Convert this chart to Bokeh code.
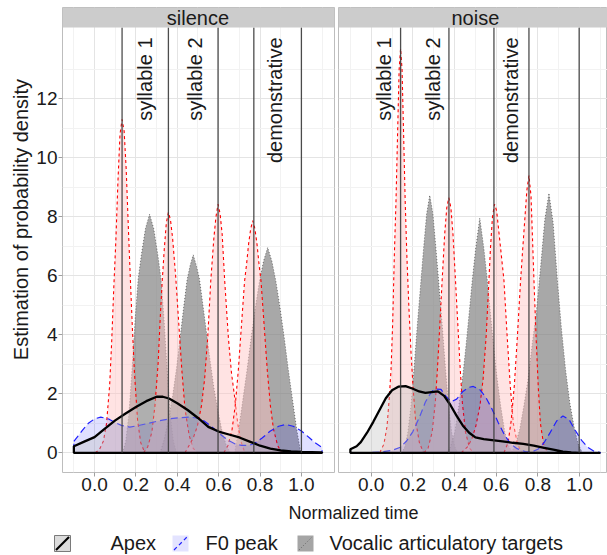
import math
from bokeh.plotting import figure
from bokeh.models import Range1d, FixedTicker, CustomJSTickFormatter
from bokeh.layouts import row, column
from bokeh.embed import file_html
from bokeh.resources import INLINE
from bokeh.core.properties import value

FONT = "Liberation Sans"

# ---------------- data ----------------
x_ticks = [0.0, 0.2, 0.4, 0.6, 0.8, 1.0]
x_minor = [-0.1, 0.1, 0.3, 0.5, 0.7, 0.9, 1.1]
y_ticks = [0, 2, 4, 6, 8, 10, 12]
y_minor = [1, 3, 5, 7, 9, 11, 13]

panel_names = ["silence", "noise"]
segment_labels = ["syllable 1", "syllable 2", "demonstrative"]
legend_labels = ["Apex", "F0 peak", "Vocalic articulatory targets"]
x_title = "Normalized time"
y_title = "Estimation of probability density"

silence_bounds = [0.133, 0.357, 0.597, 0.770, 1.000]
noise_bounds = [0.141, 0.373, 0.589, 0.757, 0.998]
silence_label_x = [0.245, 0.487, 0.873]
noise_label_x = [0.062, 0.295, 0.672]

silence_apex_x = [-0.10, -0.05, 0.00, 0.05, 0.10, 0.15, 0.20, 0.25, 0.30, 0.33, 0.36, 0.40, 0.45,
                  0.50, 0.55, 0.60, 0.65, 0.70, 0.75, 0.80, 0.85, 0.90, 0.95, 1.00, 1.05, 1.10]
silence_apex_y = [0.22, 0.38, 0.53, 0.82, 1.10, 1.33, 1.55, 1.75, 1.90, 1.90, 1.84, 1.68, 1.45,
                  1.18, 0.88, 0.72, 0.62, 0.52, 0.38, 0.24, 0.14, 0.08, 0.05, 0.03, 0.02, 0.01]

silence_f0_x = [-0.10, -0.06, -0.03, 0.00, 0.03, 0.07, 0.10, 0.13, 0.17, 0.21, 0.26, 0.31, 0.36, 0.41,
                0.46, 0.50, 0.53, 0.56, 0.59, 0.62, 0.65, 0.68, 0.71, 0.74, 0.77, 0.81, 0.85, 0.89,
                0.925, 0.96, 1.00, 1.04, 1.07, 1.10]
silence_f0_y = [0.39, 0.75, 1.00, 1.15, 1.21, 1.14, 1.02, 0.93, 0.87, 0.92, 1.00, 1.08, 1.15, 1.19,
                1.21, 1.17, 1.08, 0.92, 0.74, 0.56, 0.41, 0.30, 0.25, 0.25, 0.30, 0.50, 0.74, 0.90,
                0.96, 0.90, 0.74, 0.50, 0.32, 0.18]

noise_apex_x = [-0.10, -0.07, -0.05, -0.02, 0.01, 0.04, 0.07, 0.10, 0.13, 0.165, 0.20, 0.23, 0.26,
                0.29, 0.32, 0.35, 0.38, 0.41, 0.44, 0.47, 0.50, 0.54, 0.58, 0.63, 0.68, 0.73, 0.78,
                0.83, 0.88, 0.92, 0.96, 1.00, 1.10]
noise_apex_y = [0.12, 0.22, 0.36, 0.68, 1.05, 1.45, 1.85, 2.12, 2.24, 2.26, 2.17, 2.08, 2.03,
                2.06, 2.08, 1.93, 1.62, 1.25, 0.92, 0.68, 0.52, 0.46, 0.43, 0.39, 0.34, 0.30, 0.24,
                0.17, 0.10, 0.04, 0.01, 0.00, 0.00]

noise_f0_x = [-0.10, 0.00, 0.05, 0.10, 0.14, 0.17, 0.20, 0.23, 0.26, 0.29, 0.31, 0.335, 0.36, 0.385,
              0.41, 0.44, 0.47, 0.49, 0.52, 0.55, 0.58, 0.61, 0.64, 0.67, 0.70, 0.74, 0.77, 0.80,
              0.83, 0.86, 0.89, 0.92, 0.95, 0.98, 1.01, 1.04, 1.07, 1.10]
noise_f0_y = [0.00, 0.01, 0.03, 0.08, 0.19, 0.40, 0.72, 1.18, 1.72, 2.08, 2.16, 2.15, 1.90, 1.73,
              1.82, 2.08, 2.22, 2.25, 2.15, 1.88, 1.48, 1.02, 0.60, 0.30, 0.14, 0.04, 0.03, 0.12,
              0.35, 0.70, 1.08, 1.25, 1.12, 0.75, 0.42, 0.18, 0.05, 0.01]

silence_red_x = [
    [0.003, 0.023, 0.043, 0.058, 0.073, 0.083, 0.093, 0.103, 0.113, 0.123, 0.133, 0.143, 0.153,
     0.163, 0.173, 0.183, 0.193, 0.208, 0.223, 0.243],
    [0.237, 0.257, 0.277, 0.292, 0.307, 0.317, 0.327, 0.337, 0.347, 0.357, 0.367, 0.377, 0.392,
     0.407, 0.422, 0.437, 0.457, 0.477, 0.497],
    [0.437, 0.457, 0.477, 0.497, 0.517, 0.532, 0.547, 0.562, 0.577, 0.587, 0.597, 0.607, 0.617,
     0.629, 0.647, 0.662, 0.677, 0.692, 0.707, 0.727],
    [0.625, 0.645, 0.665, 0.680, 0.695, 0.710, 0.725, 0.735, 0.745, 0.755, 0.765, 0.775, 0.785,
     0.795, 0.805, 0.820, 0.835, 0.850, 0.865, 0.885, 0.905],
]
silence_red_y = [
    [0.0, 0.1, 0.4, 1.0, 2.3, 3.8, 5.6, 7.2, 9.2, 10.8, 11.3, 10.9, 9.6, 7.7, 5.9, 4.2, 2.7, 1.1, 0.35, 0.0],
    [0.0, 0.2, 0.7, 1.6, 3.0, 4.5, 5.8, 6.9, 7.8, 8.15, 7.9, 7.3, 6.0, 4.4, 2.8, 1.5, 0.6, 0.15, 0.0],
    [0.0, 0.25, 0.5, 0.9, 1.6, 2.5, 3.9, 5.85, 7.3, 8.0, 8.43, 8.1, 7.4, 5.85, 3.9, 2.7, 1.9, 1.0, 0.4, 0.0],
    [0.0, 0.25, 0.8, 1.6, 2.8, 4.3, 5.8, 6.4, 7.1, 7.6, 7.87, 7.6, 7.1, 6.4, 5.8, 4.3, 2.8, 1.6, 0.8, 0.25, 0.0],
]

silence_voc_x = [
    [0.136, 0.151, 0.166, 0.181, 0.196, 0.211, 0.226, 0.246, 0.266, 0.286, 0.306, 0.321, 0.336,
     0.351, 0.366, 0.381, 0.396],
    [0.317, 0.337, 0.357, 0.377, 0.397, 0.417, 0.432, 0.447, 0.462, 0.477, 0.492, 0.507, 0.522,
     0.537, 0.557, 0.577, 0.597, 0.617, 0.637, 0.657],
    [0.677, 0.697, 0.717, 0.737, 0.757, 0.777, 0.797, 0.817, 0.837, 0.857, 0.877, 0.897, 0.917,
     0.937, 0.957, 0.977, 0.997],
]
silence_voc_y = [
    [0.0, 0.4, 1.3, 2.8, 4.5, 5.9, 6.7, 7.6, 8.09, 7.6, 6.7, 5.9, 4.5, 2.8, 1.3, 0.4, 0.0],
    [0.0, 0.45, 1.1, 1.9, 2.9, 4.1, 5.0, 5.85, 6.35, 6.71, 6.35, 5.9, 5.1, 4.3, 3.2, 2.2, 1.4, 0.7, 0.25, 0.0],
    [0.0, 0.8, 1.8, 2.8, 3.9, 4.9, 5.8, 6.5, 6.96, 6.5, 5.8, 4.9, 3.9, 2.8, 1.8, 0.8, 0.0],
]

noise_red_x = [
    [0.041, 0.061, 0.076, 0.086, 0.095, 0.103, 0.111, 0.119, 0.1265, 0.134, 0.141, 0.148, 0.1555,
     0.163, 0.171, 0.181, 0.191, 0.201, 0.213, 0.231, 0.251],
    [0.2525, 0.2725, 0.2925, 0.3075, 0.3175, 0.3275, 0.3405, 0.3525, 0.3625, 0.3725, 0.3825,
     0.3925, 0.4045, 0.4175, 0.4275, 0.4375, 0.4525, 0.4725, 0.4925],
    [0.432, 0.462, 0.482, 0.502, 0.522, 0.537, 0.552, 0.565, 0.572, 0.582, 0.592, 0.602, 0.617,
     0.637, 0.652, 0.667, 0.682, 0.702, 0.722],
    [0.637, 0.657, 0.672, 0.687, 0.702, 0.717, 0.727, 0.737, 0.747, 0.757, 0.767, 0.781, 0.792,
     0.802, 0.812, 0.827, 0.847],
]
noise_red_y = [
    [0.0, 0.3, 0.9, 1.8, 2.8, 4.4, 6.7, 8.55, 10.8, 13.0, 13.7, 13.0, 10.8, 8.55, 6.7, 4.9, 3.4, 2.2, 1.1, 0.35, 0.0],
    [0.0, 0.15, 0.7, 1.7, 2.8, 4.1, 5.85, 7.4, 8.3, 8.65, 8.3, 7.4, 5.85, 4.1, 2.8, 1.7, 0.7, 0.15, 0.0],
    [0.0, 0.2, 0.45, 0.9, 1.6, 2.5, 4.0, 5.85, 6.9, 8.0, 8.43, 8.2, 7.2, 5.85, 4.0, 2.3, 1.0, 0.3, 0.0],
    [0.0, 0.35, 1.1, 2.3, 4.0, 5.85, 6.9, 7.9, 8.9, 9.4, 8.7, 5.85, 3.8, 2.2, 1.0, 0.3, 0.0],
]

noise_voc_x = [
    [0.146, 0.161, 0.176, 0.191, 0.206, 0.221, 0.236, 0.251, 0.266, 0.281, 0.296, 0.311, 0.326,
     0.341, 0.356, 0.371, 0.386, 0.401, 0.416],
    [0.361, 0.381, 0.401, 0.421, 0.441, 0.456, 0.471, 0.485, 0.501, 0.521, 0.541, 0.557, 0.571,
     0.586, 0.601, 0.621, 0.641, 0.661, 0.681],
    [0.673, 0.693, 0.713, 0.733, 0.753, 0.773, 0.793, 0.813, 0.833, 0.853, 0.873, 0.893, 0.913,
     0.933, 0.953, 0.973, 0.993, 1.013],
]
noise_voc_y = [
    [0.0, 0.2, 0.7, 1.6, 2.9, 4.3, 5.6, 6.9, 8.1, 8.73, 8.1, 6.9, 5.6, 4.3, 2.9, 1.6, 0.7, 0.2, 0.0],
    [0.0, 0.2, 0.7, 1.6, 2.7, 3.7, 4.8, 5.85, 6.9, 7.96, 6.9, 5.85, 4.8, 3.7, 2.7, 1.6, 0.7, 0.2, 0.0],
    [0.0, 0.3, 0.8, 1.6, 2.5, 3.7, 4.8, 6.3, 7.9, 8.8, 7.8, 5.9, 4.2, 2.8, 1.7, 0.9, 0.3, 0.0],
]

# ---------------- style ----------------
Y_LOW, Y_PANEL_TOP, Y_TOP = -0.668, 14.417, 15.095
GRID_MAJOR = "#E4E4E4"
GRID_MINOR = "#F2F2F2"
BORDER = "#BDBDBD"
STRIP = "#CCCCCC"
TEXT = "#1A1A1A"
PANEL_H = 500


def closed(xs, ys):
    return list(xs) + [xs[-1], xs[0]], list(ys) + [0, 0]


def make_panel(name, xr, width, left, show_y, apex, f0, voc, red, bounds, lab_x):
    p = figure(width=width, height=PANEL_H, x_range=Range1d(*xr), y_range=Range1d(Y_LOW, Y_TOP),
               output_backend="svg", toolbar_location=None,
               y_axis_location="left" if show_y else None,
               min_border_left=left, min_border_right=2 if show_y else 0,
               min_border_top=7, min_border_bottom=28)
    p.background_fill_color = "white"
    p.border_fill_color = "white"
    p.outline_line_color = BORDER
    p.outline_line_width = 1

    xt = FixedTicker(ticks=x_ticks, minor_ticks=x_minor)
    yt = FixedTicker(ticks=y_ticks, minor_ticks=y_minor)
    p.xaxis.ticker = xt
    p.xaxis.formatter = CustomJSTickFormatter(code="return tick.toFixed(1);")
    p.xgrid.ticker = xt
    p.ygrid.ticker = yt
    for g in list(p.xgrid) + list(p.ygrid):
        g.grid_line_color = GRID_MAJOR
        g.grid_line_width = 1
        g.minor_grid_line_color = GRID_MINOR
        g.minor_grid_line_width = 1
    axes = list(p.xaxis)
    if show_y:
        p.yaxis.ticker = yt
        axes += list(p.yaxis)
    for ax in axes:
        ax.axis_line_color = None
        ax.major_tick_line_color = "#A0A0A0"
        ax.major_tick_out = 4
        ax.major_tick_in = 0
        ax.minor_tick_out = 0
        ax.minor_tick_in = 0
        ax.major_label_text_font = FONT
        ax.major_label_text_font_size = "19px"
        ax.major_label_text_color = TEXT
        ax.major_label_standoff = 1

    # vocalic articulatory targets
    for xs, ys in zip(*voc):
        cx, cy = closed(xs, ys)
        p.patch(cx, cy, fill_color="#7F7F7F", fill_alpha=0.68,
                line_color="#333333", line_alpha=0.8, line_width=0.8, line_dash="1 2")
    # red peaks
    for xs, ys in zip(*red):
        cx, cy = closed(xs, ys)
        p.patch(cx, cy, fill_color="#FFC0C0", fill_alpha=0.45,
                line_color="#FF0000", line_width=1.1, line_dash="3 3")
    # F0 peak
    cx, cy = closed(*f0)
    p.patch(cx, cy, fill_color="#0000FF", fill_alpha=0.12,
            line_color="#2020FF", line_width=1.2, line_dash="7 4")
    # Apex
    cx, cy = closed(*apex)
    p.patch(cx, cy, fill_color="#BEBEBE", fill_alpha=0.35,
            line_color="black", line_width=2.3)

    # segment boundaries
    p.segment(x0=bounds, y0=[0] * len(bounds), x1=bounds, y1=[Y_PANEL_TOP] * len(bounds),
              line_color="#3A3A3A", line_width=1.3, line_alpha=0.9)
    p.text(x=lab_x, y=[14.08] * len(lab_x), text=segment_labels, angle=math.pi / 2,
           text_align="right", text_baseline="middle", text_font=value(FONT),
           text_font_size="20px", text_color=TEXT)

    # strip
    p.quad(left=[xr[0]], right=[xr[1]], bottom=[Y_PANEL_TOP], top=[Y_TOP],
           fill_color=STRIP, line_color=None)
    p.text(x=[0.5], y=[(Y_PANEL_TOP + Y_TOP) / 2], text=[name], text_align="center",
           text_baseline="middle", text_font=value(FONT), text_font_size="20px",
           text_color=TEXT)
    return p


p1 = make_panel(panel_names[0], (-0.155, 1.160), 303, 27, True,
                (silence_apex_x, silence_apex_y), (silence_f0_x, silence_f0_y),
                (silence_voc_x, silence_voc_y), (silence_red_x, silence_red_y),
                silence_bounds, silence_label_x)
p2 = make_panel(panel_names[1], (-0.157, 1.134), 271, 2, False,
                (noise_apex_x, noise_apex_y), (noise_f0_x, noise_f0_y),
                (noise_voc_x, noise_voc_y), (noise_red_x, noise_red_y),
                noise_bounds, noise_label_x)


def blank(width, height):
    f = figure(width=width, height=height, x_range=Range1d(0, width), y_range=Range1d(height, 0),
               output_backend="svg", toolbar_location=None, min_border=0,
               x_axis_location=None, y_axis_location=None)
    f.outline_line_color = None
    f.grid.visible = False
    f.background_fill_color = "white"
    f.border_fill_color = "white"
    return f


# y-axis title
p0 = blank(33, PANEL_H)
p0.text(x=[20], y=[228], text=[y_title], angle=math.pi / 2, text_align="center",
        text_baseline="middle", text_font=value(FONT), text_font_size="20px", text_color=TEXT)

# x title and legend
p3 = blank(607, 55)
p3.text(x=[353], y=[12], text=[x_title], text_align="center", text_baseline="middle",
        text_font=value(FONT), text_font_size="18px", text_color=TEXT)
key_left = [54, 172, 297]
key_w = 16
ky0, ky1 = 35, 51
p3.quad(left=[key_left[0]], right=[key_left[0] + key_w], top=[ky0], bottom=[ky1],
        fill_color="#DCDCDC", line_color="#7A7A7A", line_width=1)
p3.segment(x0=[key_left[0] + 1.5], y0=[ky1 - 1.5], x1=[key_left[0] + key_w - 1.5], y1=[ky0 + 1.5],
           line_color="black", line_width=2.2)
p3.quad(left=[key_left[1]], right=[key_left[1] + key_w], top=[ky0], bottom=[ky1],
        fill_color="#E3E3FF", line_color=None)
p3.segment(x0=[key_left[1] + 1.5], y0=[ky1 - 1.5], x1=[key_left[1] + key_w - 1.5], y1=[ky0 + 1.5],
           line_color="#2020FF", line_width=1.2, line_dash="4 3")
p3.quad(left=[key_left[2]], right=[key_left[2] + key_w], top=[ky0], bottom=[ky1],
        fill_color="#A5A5A5", line_color=None)
p3.segment(x0=[key_left[2] + 1.5], y0=[ky1 - 1.5], x1=[key_left[2] + key_w - 1.5], y1=[ky0 + 1.5],
           line_color="#555555", line_width=0.8, line_dash="1 2")
p3.text(x=[110, 205, 329], y=[42, 42, 42], text=legend_labels, text_align="left",
        text_baseline="middle", text_font=value(FONT), text_font_size="20px", text_color=TEXT)

layout = column(row(p0, p1, p2), p3)
open("out.html", "w").write(file_html(layout, INLINE))
